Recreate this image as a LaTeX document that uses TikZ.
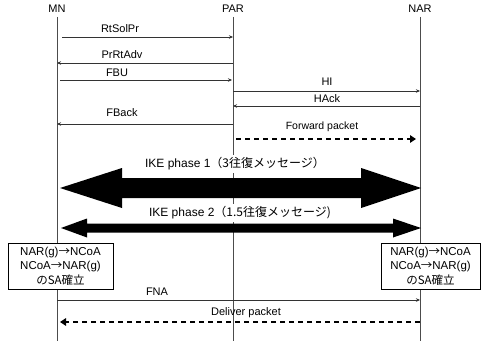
\documentclass[tikz,border=0pt]{standalone}
\usepackage{fontspec}
\setmainfont{Liberation Sans}
\newfontfamily\jp{Noto Sans CJK JP}
\usetikzlibrary{arrows.meta,calc}
\begin{document}
\begin{tikzpicture}[x=1pt,y=-1pt,
  every node/.style={font=\fontsize{11}{13}\selectfont, inner sep=0pt},
  lifeline/.style={draw=black!70, line width=0.8pt},
  msg/.style={draw=black!80, line width=0.6pt, -{Stealth[length=4pt,width=3.5pt]}},
  pkt/.style={line width=2.8pt, dash pattern=on 5pt off 4pt, -{Triangle[length=6pt,width=7.5pt]}},
  phase/.style={font=\fontsize{12}{14}\selectfont, fill=white, inner sep=3pt},
  sabox/.style={draw, fill=white, line width=0.6pt, minimum width=105pt, minimum height=46pt,
                align=center, font=\fontsize{11.5}{14.5}\selectfont}
]
\useasboundingbox (0,0) rectangle (481,345);

% participants and their lifelines
\node (MN)  at (57,9)  {MN};
\node (PAR) at (233,9) {PAR};
\node (NAR) at (420,9) {NAR};
\foreach \p/\x in {MN/57,PAR/233,NAR/420}{
  \coordinate (\p top) at (\x,17);
  \coordinate (\p bot) at (\x,341);
}
\draw[lifeline] (MNtop) -- (MNbot);
\draw[lifeline] (PARtop) -- (PARbot);
\draw[lifeline] (NARtop) -- (NARbot);

% message end points on the lifelines
\coordinate (m1a) at (62,37);   \coordinate (m1b) at (233,37);
\coordinate (m2a) at (233,63);  \coordinate (m2b) at (57,63);
\coordinate (m3a) at (60,80);   \coordinate (m3b) at (232,80);
\coordinate (m4a) at (233,91);  \coordinate (m4b) at (420,91);
\coordinate (m5a) at (420,106); \coordinate (m5b) at (233,106);
\coordinate (m6a) at (233,124); \coordinate (m6b) at (57,124);
\coordinate (m7a) at (236,139); \coordinate (m7b) at (416,139);
\coordinate (m8a) at (57,300);  \coordinate (m8b) at (420,300);
\coordinate (m9a) at (420,322); \coordinate (m9b) at (60,322);

\draw[msg] (m1a) -- (m1b);
\draw[msg] (m2a) -- (m2b);
\draw[msg] (m3a) -- (m3b);
\draw[msg] (m4a) -- (m4b);
\draw[msg] (m5a) -- (m5b);
\draw[msg] (m6a) -- (m6b);
\draw[pkt] (m7a) -- (m7b);
\draw[msg] (m8a) -- (m8b);
\draw[pkt] (m9a) -- (m9b);

\node (l1) at (120,29)  {RtSolPr};
\node (l2) at (122,55)  {PrRtAdv};
\node (l3) at (117,73)  {FBU};
\node (l4) at (327,82)  {HI};
\node (l5) at (327,99)  {HAck};
\node (l6) at (122,113) {FBack};
\node[font=\fontsize{10.5}{12}\selectfont] (l7) at (322,127) {Forward packet};
\node (l8) at (157,292) {FNA};
\node (l9) at (246,313) {Deliver packet};

% IKE exchanges as broad double arrows
\coordinate (k1L) at (60,188);  \coordinate (k1R) at (421,188);
\fill (k1L) -- ++(62,-20) -- ++(0,10) -- ($(k1R)+(-60,-10)$) -- ++(0,-10) -- (k1R)
      -- ++(-60,20) -- ++(0,-10) -- ($(k1L)+(62,10)$) -- ++(0,10) -- cycle;
\coordinate (k2L) at (61,228);  \coordinate (k2R) at (421,228);
\fill (k2L) -- ++(26,-9.5) -- ++(0,5) -- ($(k2R)+(-28,-4.5)$) -- ++(0,-5) -- (k2R)
      -- ++(-28,9.5) -- ++(0,-5) -- ($(k2L)+(26,4.5)$) -- ++(0,5) -- cycle;
\node[phase] (p1) at (235,164) {IKE phase 1{\jp（3往復メッセージ）}};
\node[phase] (p2) at (240,213) {IKE phase 2{\jp（1.5往復メッセージ)}};

% security association set-up on both ends
\node[sabox] (saL) at (60.5,266) {NAR(g){\jp →}NCoA\\NCoA{\jp →}NAR(g)\\{\jp のSA確立}};
\node[sabox, minimum width=99pt] (saR) at (430.5,266) {NAR(g){\jp →}NCoA\\NCoA{\jp →}NAR(g)\\{\jp のSA確立}};
\end{tikzpicture}
\end{document}
